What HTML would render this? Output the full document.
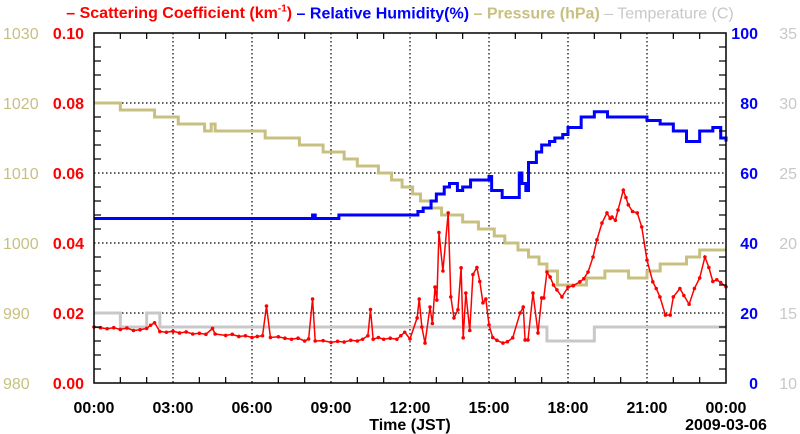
<!DOCTYPE html>
<html><head><meta charset="utf-8"><style>
body{margin:0;background:#fff;}
svg{display:block;font-family:"Liberation Sans",sans-serif;font-weight:bold;}
</style></head><body>
<svg id="chart" width="800" height="434"></svg>
<script>
const scatT=[0,0.25,0.5,0.75,1,1.25,1.5,1.75,2,2.15,2.3,2.5,2.75,3,3.25,3.5,3.75,4,4.25,4.5,4.6,5,5.25,5.5,5.75,6,6.2,6.4,6.55,6.7,7,7.25,7.5,7.75,8,8.15,8.3,8.4,8.7,9,9.25,9.5,9.75,10,10.2,10.4,10.5,10.6,10.8,11,11.25,11.5,11.65,11.8,12,12.27,12.35,12.45,12.57,12.76,12.85,12.95,13.02,13.1,13.25,13.45,13.55,13.67,13.82,13.94,14.02,14.12,14.27,14.39,14.54,14.65,14.77,14.88,15,15.14,15.3,15.53,15.7,15.9,16.18,16.3,16.37,16.48,16.67,16.86,17.0,17.08,17.2,17.32,17.45,17.58,17.77,18.0,18.2,18.45,18.6,18.76,18.95,19.1,19.29,19.48,19.6,19.67,19.8,19.9,20.1,20.2,20.29,20.45,20.63,20.8,21.0,21.22,21.35,21.49,21.7,21.88,22.0,22.25,22.4,22.6,22.8,23.0,23.2,23.35,23.5,23.65,23.8,24];
const scatV=[0.016,0.0158,0.0155,0.0158,0.0153,0.0157,0.015,0.0152,0.0156,0.0165,0.0172,0.0147,0.0145,0.0148,0.0143,0.0146,0.014,0.0142,0.0139,0.0156,0.014,0.0136,0.0139,0.0133,0.0135,0.013,0.0133,0.0135,0.022,0.013,0.0132,0.0128,0.0125,0.0128,0.012,0.0126,0.024,0.012,0.0121,0.0116,0.0119,0.0117,0.0122,0.012,0.0125,0.0135,0.021,0.0125,0.013,0.0125,0.0128,0.0125,0.0135,0.0145,0.0126,0.0186,0.024,0.016,0.0114,0.0217,0.017,0.0274,0.0237,0.043,0.032,0.0486,0.0246,0.0186,0.0209,0.0329,0.0129,0.0257,0.015,0.031,0.033,0.029,0.0229,0.024,0.0166,0.013,0.0122,0.0114,0.0118,0.0129,0.02,0.0217,0.0123,0.0123,0.0257,0.0143,0.0243,0.0243,0.0317,0.0303,0.028,0.0266,0.0246,0.0274,0.0278,0.0289,0.0298,0.0317,0.036,0.0409,0.0457,0.0486,0.047,0.0474,0.0465,0.0494,0.0551,0.053,0.0509,0.049,0.0486,0.0446,0.0351,0.0289,0.027,0.0246,0.0194,0.0194,0.0246,0.027,0.025,0.0225,0.027,0.03,0.036,0.033,0.029,0.0295,0.0287,0.0275];
const rhT=[0,8.2,8.3,8.4,9,9.3,12.2,12.3,12.5,12.8,13,13.3,13.5,13.8,14,14.3,14.6,15,15.1,15.5,16,16.15,16.25,16.4,16.5,16.8,17,17.3,17.5,17.8,18,18.5,19,19.5,20.5,21,21.5,22,22.5,23,23.5,23.8,24];
const rhV=[47,47,48,47,47,48,48,49,50,52,54,56,57,55,56,58,58,59,55,53,53,60,57,55,63,66,68,69,70,71,73,76,77.5,76,76,75,74,72,69,72,73,70,69];
const presT=[0,1,2.3,3.2,4.2,4.45,4.6,5.7,6.5,7.8,8.7,9.5,10,10.8,11.3,11.7,12.1,12.4,12.8,13.2,14.0,14.6,15.2,15.6,16.1,16.5,16.9,17.2,17.6,18.7,19.4,20.3,21,21.5,22,22.5,23,24];
const presV=[1020,1019,1018,1017,1016,1017,1016,1016,1015,1014,1013,1012,1011,1010,1009,1008,1007,1006,1005,1004,1003,1002,1001,1000,999,998,997,996,994,995,996,995,996,997,997,998,999,999];
const tempT=[0,1,2,2.5,17.2,19,24];
const tempV=[15,14,15,14,13,14,14];
const xTicks=["00:00","03:00","06:00","09:00","12:00","15:00","18:00","21:00","00:00"];
const scatTicks=["0.00","0.02","0.04","0.06","0.08","0.10"];
const presTicks=["980","990","1000","1010","1020","1030"];
const rhTicks=["0","20","40","60","80","100"];
const tempTicks=["10","15","20","25","30","35"];

const L=94,R=726,T=33,B=383;
const X=t=>L+(R-L)*t/24;
const yS=v=>B-(B-T)*v/0.1, yR=v=>B-(B-T)*v/100, yP=v=>B-(B-T)*(v-980)/50, yTm=v=>B-(B-T)*(v-10)/25;
const svg=document.getElementById('chart');const NS='http://www.w3.org/2000/svg';
function mk(tag,at,txt){const e=document.createElementNS(NS,tag);for(const k in at)e.setAttribute(k,at[k]);if(txt!=null)e.textContent=txt;svg.appendChild(e);return e;}
for(let i=1;i<8;i++){const g=mk('line',{x1:X(i*3),x2:X(i*3),y1:T,y2:B,stroke:'#000','stroke-dasharray':'1.5,2.5','stroke-width':1.2});

}
for(let i=1;i<5;i++){const g=mk('line',{x1:L,x2:R,y1:yS(i*0.02),y2:yS(i*0.02),stroke:'#000','stroke-dasharray':'1.5,2.5','stroke-width':1.2});

}
function stepPath(ts,vs,fy){let d='M'+X(ts[0])+','+fy(vs[0]);for(let i=1;i<ts.length;i++){d+=' H'+X(ts[i])+' V'+fy(vs[i]);}return d;}
const tp=mk('path',{d:stepPath(tempT,tempV,yTm),fill:'none',stroke:'#c8c8c8','stroke-width':3});


const pp=mk('path',{d:stepPath(presT,presV,yP),fill:'none',stroke:'#c8c080','stroke-width':3});


const rp=mk('path',{d:stepPath(rhT,rhV,yR),fill:'none',stroke:'#0000ff','stroke-width':3});


const sp=mk('polyline',{points:scatT.map((t,i)=>X(t)+','+yS(scatV[i])).join(' '),fill:'none',stroke:'#ff0000','stroke-width':1.5});


scatT.forEach((t,i)=>{const c=mk('circle',{cx:X(t),cy:yS(scatV[i]),r:1.8,fill:'#ff0000'});

});
const fr=mk('rect',{x:L,y:T,width:R-L,height:B-T,fill:'none',stroke:'#000','stroke-width':1.5});


for(let h=0;h<=24;h++){if(h%3==0)continue;const len=6;
mk('line',{x1:X(h),x2:X(h),y1:B,y2:B-len,stroke:'#000','stroke-width':1.2});mk('line',{x1:X(h),x2:X(h),y1:T,y2:T+len,stroke:'#000','stroke-width':1.2});}
for(let i=1;i<25;i++){if(i%5==0)continue;const y=B-(B-T)*i/25;
mk('line',{x1:L,x2:L+7,y1:y,y2:y,stroke:'#000','stroke-width':1.2});mk('line',{x1:R,x2:R-7,y1:y,y2:y,stroke:'#000','stroke-width':1.2});}
const fs=16;
xTicks.forEach((s,i)=>{const e=mk('text',{x:X(i*3),y:413,'text-anchor':'middle','font-size':fs,fill:'#000'},s);

});
scatTicks.forEach((s,i)=>{const e=mk('text',{x:84,y:yS(i*0.02)+6,'text-anchor':'end','font-size':fs,fill:'#ff0000'},s);

});
presTicks.forEach((s,i)=>{const e=mk('text',{x:3,y:yP(980+i*10)+6,'font-size':fs,fill:'#c8c080','font-weight':'normal'},s);

});
rhTicks.forEach((s,i)=>{const e=mk('text',{x:758,y:yR(i*20)+6,'text-anchor':'end','font-size':fs,fill:'#0000ff'},s);

});
tempTicks.forEach((s,i)=>{const e=mk('text',{x:797,y:yTm(10+i*5)+6,'text-anchor':'end','font-size':fs,fill:'#c8c8c8','font-weight':'normal'},s);

});
const xt=mk('text',{x:410,y:430,'text-anchor':'middle','font-size':fs,fill:'#000'},'Time (JST)');


const dt=mk('text',{x:726,y:430,'text-anchor':'middle','font-size':fs,fill:'#000'},'2009-03-06');


</script>
<div style="position:absolute;left:0;top:4px;width:800px;text-align:center;font:bold 16px 'Liberation Sans',sans-serif;white-space:nowrap;">
<span style="color:#ff0000">– Scattering Coefficient (km<sup style="font-size:10px">-1</sup>)</span>
<span style="color:#0000ff">– Relative Humidity(%)</span>
<span style="color:#c8c080">– Pressure (hPa)</span>
<span style="color:#c8c8c8;font-weight:normal">– Temperature (C)</span>
</div>
</body></html>
